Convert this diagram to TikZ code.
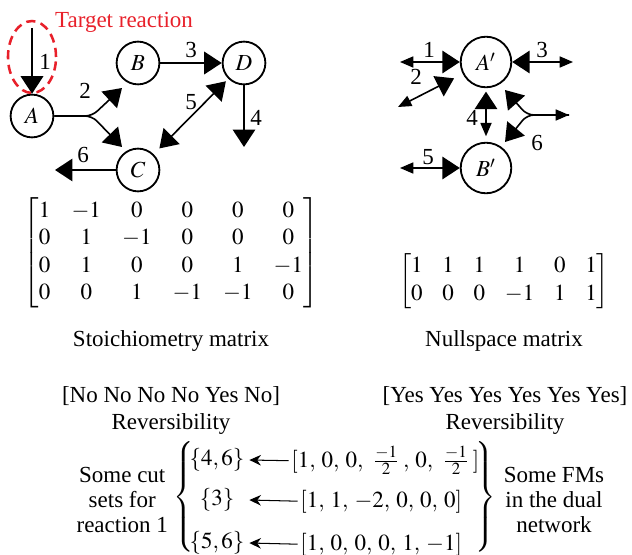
\documentclass[tikz,border=0pt]{standalone}
\usepackage{amsmath}
\usepackage{mathptmx}
\usepackage{fontspec}
\setmainfont{Liberation Serif}
\newfontfamily\tms{Liberation Serif}
\usetikzlibrary{arrows.meta,shapes.geometric}
\definecolor{tred}{RGB}{232,32,42}
\newcommand\cc{\mathpunct{,}\mskip 2.7mu}
\newcommand\hf{\mskip 2.5mu\frac{-1}{2}\mskip 2.5mu}
\tikzset{
  bigT/.tip={Triangle[length=7.6pt,width=9.8pt]},
  smT/.tip={Triangle[length=5.8pt,width=4.8pt]},
  txT/.tip={Stealth[length=5pt,width=4.6pt,inset=1.6pt]}
}
\begin{document}
\begin{tikzpicture}[x=0.435pt,y=-0.435pt,
  every node/.style={font=\tms\fontsize{10}{12}\selectfont},
  sp/.style={circle,draw,line width=0.8pt,minimum size=18.6pt,inner sep=0pt},
  spr/.style={circle,draw,line width=0.8pt,minimum size=22pt,inner sep=0pt},
  rx/.style={line width=0.7pt},
  lbl/.style={inner sep=0pt},
  setn/.style={inner sep=0pt,minimum width=27.8pt},
  vecn/.style={inner sep=0pt,anchor=base west},
  txa/.style={line width=0.45pt,{txT}-}
]
\useasboundingbox (0,0) rectangle (632,555);

% ---------- left network ----------
\node[sp] (A) at (32,116) {$A$};
\node[sp] (B) at (138,63) {$B$};
\node[sp] (D) at (244,63) {$D$};
\node[sp] (C) at (138,170) {$C$};

\coordinate (t0) at (32,28);
\draw[rx,-{bigT}] (t0) -- (A);
\node[lbl] (l1) at (45,62) {1};
\node[ellipse,draw=tred,line width=1.1pt,dash pattern=on 4pt off 2.4pt,
      minimum width=20.9pt,minimum height=31.3pt,inner sep=0pt] (tgt) at (32,57) {};
\node[text=tred,inner sep=0pt] (tgtl) at (124,22) {Target reaction};

\coordinate (j2) at (92,116);
\coordinate (t2b) at (122,88);
\coordinate (t2c) at (122,147);
\draw[rx,-{bigT},rounded corners=3pt] (A) -- (j2) -- (t2b);
\draw[rx,-{bigT},rounded corners=3pt] (A) -- (j2) -- (t2c);
\node[lbl] (l2) at (85,91) {2};

\draw[rx,-{bigT}] (B) -- (D);
\node[lbl] (l3) at (191,50) {3};

\draw[rx,{bigT}-{bigT},shorten <=3.5pt,shorten >=1.5pt] (C) -- (D);
\node[lbl] (l5) at (191,102) {5};

\coordinate (t4) at (244,147);
\draw[rx,-{bigT}] (D) -- (t4);
\node[lbl] (l4) at (256,118) {4};

\coordinate (t6) at (55,170);
\draw[rx,-{bigT}] (C) -- (t6);
\node[lbl] (l6) at (83,155) {6};

% ---------- right network ----------
\node[spr] (Ap) at (486,62) {$A'$};
\node[spr] (Bp) at (486,168) {$B'$};

\coordinate (e1) at (400,62);
\draw[rx,{smT}-{bigT}] (e1) -- (Ap);
\node[lbl] (r1) at (429,50) {1};

\coordinate (e2) at (398,107);
\draw[rx,{smT}-{bigT},shorten >=4.2pt] (e2) -- (Ap);
\node[lbl] (r2) at (416,77) {2};

\coordinate (e3) at (573,62);
\draw[rx,{bigT}-{smT}] (Ap) -- (e3);
\node[lbl] (r3) at (542,50) {3};

\draw[rx,{bigT}-{smT},shorten <=1.5pt,shorten >=2.4pt] (Ap) -- (Bp);
\node[lbl] (r4) at (472,118) {4};

\coordinate (e5) at (400,168);
\draw[rx,{smT}-{bigT}] (e5) -- (Bp);
\node[lbl] (r5) at (428,157) {5};

\coordinate (j6) at (527,115);
\coordinate (e6) at (569,115);
\coordinate (t6a) at (505,90);
\coordinate (t6b) at (505,142);
\draw[rx,{smT}-{bigT},rounded corners=3pt] (e6) -- (j6) -- (t6a);
\draw[rx,-{bigT},rounded corners=3pt] (e6) -- (j6) -- (t6b);
\node[lbl] (r6) at (537,143) {6};

% ---------- matrices ----------
\node (S) at (171,253) {\arraycolsep=4.6pt$\begin{bmatrix}
1&-1&0&0&0&0\\
0&1&-1&0&0&0\\
0&1&0&0&1&-1\\
0&0&1&-1&-1&0
\end{bmatrix}$};
\node (N) at (504,281) {\arraycolsep=4.3pt$\begin{bmatrix}
1&1&1&1&0&1\\
0&0&0&-1&1&1
\end{bmatrix}$};

\node (Sc) at (171,341) {Stoichiometry matrix};
\node (Nc) at (504,341) {Nullspace matrix};
\node (Sr) at (171,396) {[No No No No Yes No]};
\node (Srl) at (171,424) {Reversibility};
\node (Nr) at (505,396) {[Yes Yes Yes Yes Yes Yes]};
\node (Nrl) at (505,424) {Reversibility};

% ---------- cut sets ----------
\node[align=center,anchor=east,font=\tms\fontsize{10}{11}\selectfont] (cut) at (176,500)
  {Some cut\\sets for\\reaction 1};
\node[inner sep=0pt] (lb) at (185,497) {$\left\{\vrule height 21pt depth 21pt width 0pt\right.$};
\node[inner sep=0pt] (rb) at (484,497) {$\left.\vrule height 21pt depth 21pt width 0pt\right\}$};
\node[align=center,font=\tms\fontsize{10}{11}\selectfont] (fm) at (554,500)
  {Some FMs\\in the dual\\network};

\node[setn] (s1) at (217,460) {$\{4,6\}$};
\node[setn] (s2) at (217,500) {$\{3\}$};
\node[setn] (s3) at (217,543) {$\{5,6\}$};
\node[vecn] (v1) at (291,467) {$[1\cc0\cc0\cc\hf\cc0\cc\hf]$};
\node[vecn] (v2) at (300,507) {$[1\cc1\cc-2\cc0\cc0\cc0]$};
\node[vecn] (v3) at (300,550) {$[1\cc0\cc0\cc0\cc1\cc-1]$};
\draw[txa,shorten >=1pt] (s1.east) -- (v1.west);
\draw[txa,shorten >=1pt] (s2.east) -- (v2.west);
\draw[txa,shorten >=1pt] (s3.east) -- (v3.west);
\end{tikzpicture}
\end{document}
